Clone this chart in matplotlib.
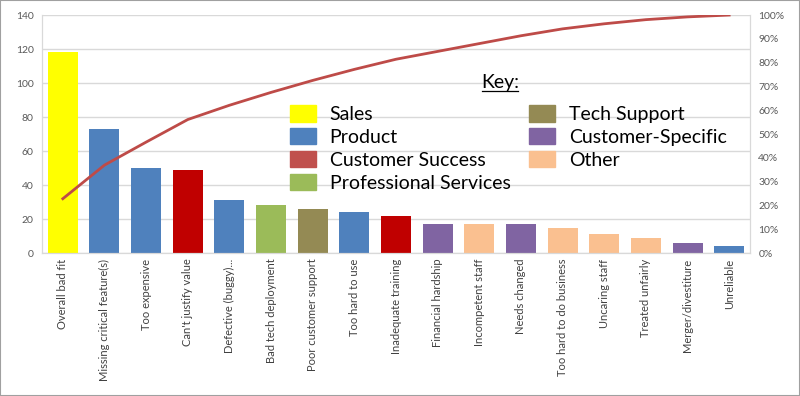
import matplotlib
matplotlib.use("Agg")
import matplotlib.pyplot as plt
import matplotlib.patches as mpatches
from matplotlib.lines import Line2D
import numpy as np

plt.rcParams['font.family'] = ['Lato', 'DejaVu Sans']

reasons = ["Overall bad fit", "Missing critical feature(s)", "Too expensive",
           "Can't justify value", "Defective (buggy)...", "Bad tech deployment",
           "Poor customer support", "Too hard to use", "Inadequate training",
           "Financial hardship", "Incompetent staff", "Needs changed",
           "Too hard to do business", "Uncaring staff", "Treated unfairly",
           "Merger/divestiture", "Unreliable"]
counts = [118, 73, 50, 49, 31, 28, 26, 24, 22, 17, 17, 17, 15, 11, 9, 6, 4]
groups = ["Sales", "Product", "Product", "Customer Success", "Product",
          "Professional Services", "Tech Support", "Product", "Customer Success",
          "Customer-Specific", "Other", "Customer-Specific", "Other", "Other",
          "Other", "Customer-Specific", "Product"]

key_order = ["Sales", "Product", "Customer Success", "Professional Services",
             "Tech Support", "Customer-Specific", "Other"]
key_colors = {"Sales": "#FFFF00", "Product": "#4F81BD", "Customer Success": "#C0504D",
              "Professional Services": "#9BBB59", "Tech Support": "#948A54",
              "Customer-Specific": "#8064A2", "Other": "#FAC090"}
bar_colors = dict(key_colors)
bar_colors["Customer Success"] = "#C00000"

cum_pct = np.cumsum(counts) / np.sum(counts)

fig = plt.figure(figsize=(8, 3.96), dpi=100)
ax = fig.add_axes([0.0525, 0.361, 0.885, 0.601])
x = np.arange(len(reasons))
ax.bar(x, counts, width=0.72, color=[bar_colors[g] for g in groups], zorder=2)
ax.set_xlim(-0.5, len(reasons) - 0.5)
ax.set_ylim(0, 140)
ax.set_yticks(range(0, 141, 20))
ax.set_xticks(x)
ax.set_xticklabels(reasons, rotation=90, fontsize=8, color="#404040")
ax.tick_params(axis="y", labelsize=7.5, labelcolor="#595959", length=0, pad=6)
ax.tick_params(axis="x", length=0, pad=4)
ax.grid(axis="y", color="#D9D9D9", linewidth=1, zorder=0)
ax.set_axisbelow(True)
ax.spines["top"].set_visible(False)
for s in ["left", "right", "bottom"]:
    ax.spines[s].set_color("#D9D9D9")

ax2 = ax.twinx()
ax2.plot(x, cum_pct, color="#BE4B48", linewidth=2, zorder=3)
ax2.set_ylim(0, 1)
ax2.set_yticks(np.arange(0, 1.01, 0.1))
ax2.set_yticklabels([f"{int(round(v * 100))}%" for v in np.arange(0, 1.01, 0.1)])
ax2.tick_params(axis="y", labelsize=7.5, labelcolor="#595959", length=0, pad=6)
ax2.spines["top"].set_visible(False)
for s in ["left", "right", "bottom"]:
    ax2.spines[s].set_color("#D9D9D9")

handles = [mpatches.Patch(color=key_colors[k], label=k) for k in key_order]
leg = ax2.legend(handles=handles, ncol=2, loc="upper left",
                 bbox_to_anchor=(0.35, 0.623), frameon=False, fontsize=14,
                 handlelength=1.35, handleheight=0.95, handletextpad=0.7,
                 columnspacing=0.95, labelspacing=0.25, borderpad=0, borderaxespad=0)

fig.text(0.6255, 0.778, "Key:", fontsize=14, ha="center", va="baseline")
fig.add_artist(Line2D([0.603, 0.648], [0.771, 0.771], color="black", linewidth=0.9))

fig.add_artist(mpatches.Rectangle((0, 0), 1, 1, transform=fig.transFigure,
                                  fill=False, edgecolor="#A0A0A0", linewidth=1.5))

fig.savefig("out.png", dpi=100)
